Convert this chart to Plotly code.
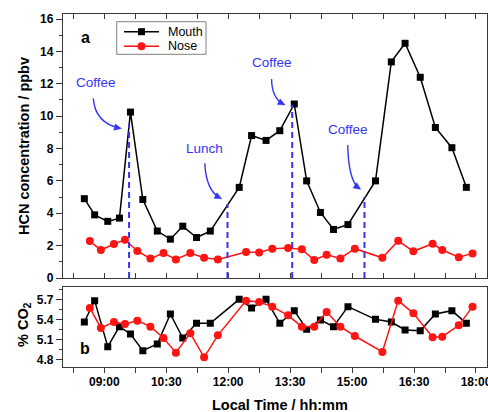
import plotly.graph_objects as go

# ---------------- data ----------------
mouth_times = ["08:31", "08:46", "09:05", "09:22", "09:38", "09:56", "10:17", "10:36", "10:54",
               "11:14", "11:34", "12:16", "12:34", "12:55", "13:15", "13:36", "13:54", "14:14",
               "14:33", "14:54", "15:34", "15:57", "16:17", "16:39", "17:01", "17:25", "17:46"]
mouth_hcn = [4.9, 3.9, 3.5, 3.7, 10.25, 4.85, 2.9, 2.4, 3.2, 2.5, 2.9, 5.6, 8.8, 8.5, 9.1,
             10.75, 6.0, 4.05, 3.0, 3.3, 6.0, 13.35, 14.5, 12.4, 9.3, 8.05, 5.6]
mouth_co2 = [5.36, 5.68, 4.99, 5.29, 5.18, 4.93, 5.03, 5.48, 5.12, 5.34, 5.34, 5.70, 5.57, 5.70,
             5.34, 5.53, 5.25, 5.39, 5.29, 5.59, 5.40, 5.36, 5.24, 5.23, 5.48, 5.53, 5.34]

nose_times = ["08:39", "08:55", "09:14", "09:30", "09:48", "10:07", "10:26", "10:44", "11:05",
              "11:25", "11:45", "12:26", "12:45", "13:04", "13:27", "13:47", "14:05", "14:23",
              "14:43", "15:04", "15:44", "16:07", "16:29", "16:57", "17:11", "17:35", "17:55"]
nose_hcn = [2.28, 1.73, 2.1, 2.36, 1.67, 1.2, 1.54, 1.15, 1.54, 1.25, 1.15, 1.6, 1.58, 1.8, 1.85,
            1.77, 1.11, 1.44, 1.21, 1.81, 1.25, 2.3, 1.65, 2.12, 1.73, 1.28, 1.52]
nose_co2 = [5.57, 5.27, 5.36, 5.33, 5.38, 5.29, 5.12, 4.90, 5.19, 4.83, 5.16, 5.68, 5.66, 5.59,
            5.46, 5.29, 5.29, 5.51, 5.29, 5.15, 4.91, 5.68, 5.49, 5.13, 5.14, 5.31, 5.59]

event_labels = ["Coffee", "Lunch", "Coffee", "Coffee"]
event_times = ["09:36", "11:59", "13:33", "15:18"]
event_levels = [9.5, 4.57, 10.7, 5.0]

x_tick_labels = ["09:00", "10:30", "12:00", "13:30", "15:00", "16:30", "18:00"]
hcn_ticks = [0, 2, 4, 6, 8, 10, 12, 14, 16]
co2_ticks = [4.8, 5.1, 5.4, 5.7]


def tmin(s):
    h, m = s.split(":")
    return int(h) * 60 + int(m)


mx = [tmin(t) for t in mouth_times]
nx = [tmin(t) for t in nose_times]
ex = [tmin(t) for t in event_times]
xt = [tmin(t) for t in x_tick_labels]

FONT = "Arial, Liberation Sans, sans-serif"
BLUE = "#3434f4"
RED = "#ff1414"
FRAME = "#3a3a3a"

W, H = 488, 412
ML, MR, MT, MB = 63, 1, 14, 45
PW, PH = W - ML - MR, H - MT - MB
XR = [480, 1096]
YR = [0, 16.31]
TOP_PX = 14   # top of panel a (px)
BOT_A_PX = 278  # bottom of panel a (px)


def px(x):
    return (x - ML) / PW


def py(y):
    return (H - MB - y) / PH


def data_to_px(t, v):
    X = ML + (t - XR[0]) / (XR[1] - XR[0]) * PW
    Y = BOT_A_PX - (v - YR[0]) / (YR[1] - YR[0]) * (BOT_A_PX - TOP_PX)
    return X, Y


fig = go.Figure()

line_kw = dict(width=1.5)
fig.add_trace(go.Scatter(x=mx, y=mouth_hcn, mode="lines+markers", name="Mouth",
                         line=dict(color="black", **line_kw),
                         marker=dict(symbol="square", size=7, color="black"),
                         xaxis="x", yaxis="y", showlegend=False))
fig.add_trace(go.Scatter(x=nx, y=nose_hcn, mode="lines+markers", name="Nose",
                         line=dict(color=RED, **line_kw),
                         marker=dict(symbol="circle", size=8, color=RED),
                         xaxis="x", yaxis="y", showlegend=False))
fig.add_trace(go.Scatter(x=mx, y=mouth_co2, mode="lines+markers", name="Mouth",
                         line=dict(color="black", **line_kw),
                         marker=dict(symbol="square", size=7, color="black"),
                         xaxis="x2", yaxis="y2", showlegend=False))
fig.add_trace(go.Scatter(x=nx, y=nose_co2, mode="lines+markers", name="Nose",
                         line=dict(color=RED, **line_kw),
                         marker=dict(symbol="circle", size=8, color=RED),
                         xaxis="x2", yaxis="y2", showlegend=False))

shapes = []
annotations = []

# event dashed lines
for t, lv in zip(ex, event_levels):
    shapes.append(dict(type="line", xref="x", yref="y", x0=t, x1=t, y0=0, y1=lv,
                       line=dict(color=BLUE, width=2, dash="6px,4px"), layer="above"))

# event labels and curved arrows (layout geometry)
label_pos = [(528, 12.1), (685, 8.0), (783, 13.32), (893.6, 9.18)]
arrow_geo = [((524, 11.1), (526.5, 9.6), (562, 9.26)),
             ((686, 7.08), (688, 5.4), (708, 4.95)),
             ((783, 12.3), (783.6, 11.1), (800, 10.75)),
             ((893.6, 8.21), (895, 6.0), (910, 5.55))]
for lab, (lx, ly) in zip(event_labels, label_pos):
    annotations.append(dict(x=lx, y=ly, xref="x", yref="y", text=lab, showarrow=False,
                            xanchor="center", yanchor="middle",
                            font=dict(family=FONT, size=13.5, color=BLUE)))
for p0, c, p1 in arrow_geo:
    shapes.append(dict(type="path", xref="x", yref="y",
                       path=f"M {p0[0]},{p0[1]} Q {c[0]},{c[1]} {p1[0]},{p1[1]}",
                       line=dict(color=BLUE, width=1.4)))
    # arrowhead as a small filled triangle (pixel geometry -> paper coords)
    ex_, ey_ = data_to_px(*p1)
    cx_, cy_ = data_to_px(*c)
    dx, dy = ex_ - cx_, ey_ - cy_
    n = (dx * dx + dy * dy) ** 0.5
    ux, uy = dx / n, dy / n
    L, Wd = 7.0, 3.2
    tipx, tipy = ex_ + ux * 2, ey_ + uy * 2
    bx, by = tipx - ux * L, tipy - uy * L
    p_a = (bx - uy * Wd, by + ux * Wd)
    p_b = (bx + uy * Wd, by - ux * Wd)
    path = (f"M {px(tipx)},{py(tipy)} L {px(p_a[0])},{py(p_a[1])} "
            f"L {px(p_b[0])},{py(p_b[1])} Z")
    shapes.append(dict(type="path", xref="paper", yref="paper", path=path,
                       fillcolor=BLUE, line=dict(color=BLUE, width=0.5)))

# manual legend
shapes.append(dict(type="rect", xref="paper", yref="paper", x0=px(116.7), x1=px(206),
                   y0=py(54.3), y1=py(21.7), line=dict(color="#808080", width=1),
                   fillcolor="white", layer="above"))
for name, color, sym, yy in [("Mouth", "black", "square", 31.7), ("Nose", RED, "circle", 46.3)]:
    shapes.append(dict(type="line", xref="paper", yref="paper", x0=px(124), x1=px(159),
                       y0=py(yy), y1=py(yy), line=dict(color=color, width=1.5), layer="above"))
    if sym == "square":
        shapes.append(dict(type="rect", xref="paper", yref="paper", xsizemode="pixel",
                           ysizemode="pixel", xanchor=px(141.5), yanchor=py(yy),
                           x0=-3.5, x1=3.5, y0=-3.5, y1=3.5, fillcolor=color,
                           line=dict(width=0), layer="above"))
    else:
        shapes.append(dict(type="circle", xref="paper", yref="paper", xsizemode="pixel",
                           ysizemode="pixel", xanchor=px(141.5), yanchor=py(yy),
                           x0=-4, x1=4, y0=-4, y1=4, fillcolor=color,
                           line=dict(width=0), layer="above"))
    annotations.append(dict(x=px(166), y=py(yy), xref="paper", yref="paper", text=name,
                            xanchor="left", yanchor="middle", showarrow=False,
                            font=dict(family=FONT, size=12.5, color="black")))


def paper_text(x, y, text, size, angle=0, weight="bold"):
    return dict(x=px(x), y=py(y), xref="paper", yref="paper", text=text, textangle=angle,
                xanchor="center", yanchor="middle", showarrow=False,
                font=dict(family=FONT, size=size, color="black", weight=weight))


# panel letters
annotations.append(paper_text(85.7, 38, "a", 16))
annotations.append(paper_text(85, 348.7, "b", 16))

# axis titles
annotations.append(paper_text(24, 146, "HCN concentration / ppbv", 14.5, -90))
annotations.append(paper_text(24, 325, "% CO<sub>2</sub>", 14.5, -90))
annotations.append(paper_text(280, 405, "Local Time / hh:mm", 14.5))

tickfont = dict(family=FONT, size=12, color="black", weight="bold")
top_frac = (H - MB - BOT_A_PX) / PH
bot_frac = (H - MB - 286.7) / PH

common_x = dict(range=XR, tickvals=xt, ticktext=x_tick_labels, showline=True,
                linecolor=FRAME, linewidth=1.3, showgrid=False, zeroline=False,
                tickcolor=FRAME, tickwidth=1)

fig.update_layout(
    width=W, height=H, margin=dict(l=ML, r=MR, t=MT, b=MB, autoexpand=False),
    paper_bgcolor="white", plot_bgcolor="white",
    shapes=shapes, annotations=annotations,
    xaxis=dict(anchor="y", ticks="inside", ticklen=5, showticklabels=False, mirror="ticks",
               minor=dict(dtick=45, tick0=0, ticks="inside", ticklen=5, tickcolor=FRAME),
               **common_x),
    xaxis2=dict(anchor="y2", matches="x", ticks="outside", ticklen=5, showticklabels=True,
                mirror=True, tickfont=tickfont, ticklabeloverflow="allow",
                ticklabelstandoff=-2,
                minor=dict(dtick=45, tick0=0, ticks="outside", ticklen=5, tickcolor=FRAME),
                **common_x),
    yaxis=dict(domain=[top_frac, 1], range=YR, tickvals=hcn_ticks, ticks="outside",
               ticklen=6, tickcolor=FRAME, showline=True, linecolor=FRAME, linewidth=1.3,
               mirror=True, showgrid=False, zeroline=False, tickfont=tickfont,
               minor=dict(dtick=1, ticks="outside", ticklen=3, tickcolor=FRAME)),
    yaxis2=dict(domain=[0, bot_frac], range=[4.685, 5.889], tickvals=co2_ticks, ticks="outside",
                ticklen=6, tickcolor=FRAME, showline=True, linecolor=FRAME, linewidth=1.3,
                mirror=True, showgrid=False, zeroline=False, tickfont=tickfont,
                minor=dict(dtick=0.15, tick0=4.65, ticks="outside", ticklen=3, tickcolor=FRAME)),
)

fig.write_html("out.html", config={"displayModeBar": False},
               post_script="document.body.style.margin='0';"
               "document.body.style.overflow='hidden';")
